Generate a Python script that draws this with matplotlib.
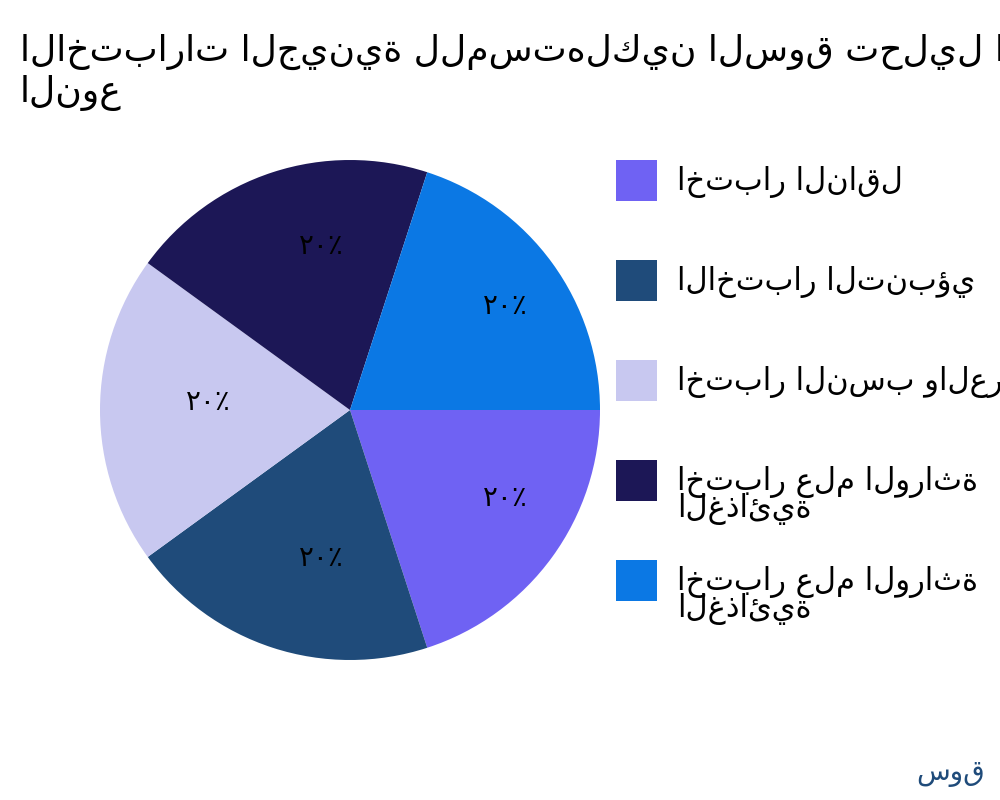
import matplotlib
matplotlib.use('Agg')
import matplotlib.pyplot as plt
from matplotlib.patches import Rectangle

labels = ['اختبار الناقل', 'الاختبار التنبؤي', 'اختبار النسب والعرق',
          'اختبار علم الوراثة\nالغذائية', 'اختبار علم الوراثة\nالغذائية']
values = [20, 20, 20, 20, 20]
colors = ['#6f62f3', '#1f4b7a', '#c8c8f0', '#1c1756', '#0b78e4']
title = 'الاختبارات الجينية للمستهلكين السوق تحليل السوق حسب\nالنوع'
pct_labels = ['٢٠٪'] * 5
watermark = 'سوق'

fig = plt.figure(figsize=(10, 8), dpi=100)
# pie: centre (350, 410) px, radius 250 px
ax = fig.add_axes([0.0375, 0.096875, 0.625, 0.78125])

wedges, texts = ax.pie(values, colors=colors, startangle=0, counterclock=False,
                       labels=pct_labels, labeldistance=0.656,
                       textprops={'fontsize': 20, 'ha': 'left', 'va': 'baseline'})

fig.text(0.02, 1 - 102 / 800, title, fontsize=26, ha='left', va='baseline')

# legend drawn by hand, one row every 100 px
for i, (lab, col) in enumerate(zip(labels, colors)):
    top = 160 + 100 * i
    fig.add_artist(Rectangle((616 / 1000, 1 - (top + 41) / 800), 41 / 1000, 41 / 800,
                             facecolor=col, transform=fig.transFigure))
    fig.text(677 / 1000, 1 - (top + 6) / 800, lab, fontsize=22, ha='left',
             va='top', linespacing=0.8)

fig.text(0.985, 1 - 780 / 800, watermark, fontsize=20, ha='right', va='baseline',
         color='#1f4b7a')

fig.savefig('out.png')
